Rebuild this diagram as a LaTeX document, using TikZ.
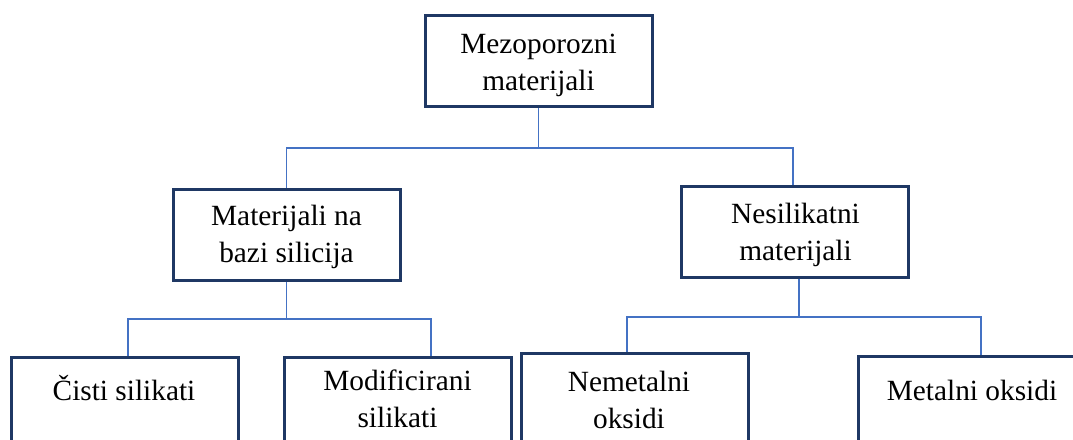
\documentclass[tikz,border=0pt]{standalone}
\usepackage{fontspec}
\setmainfont{Liberation Serif}
\definecolor{navy}{HTML}{1F3864}
\definecolor{connblue}{HTML}{4472C4}
\begin{document}
\begin{tikzpicture}[x=0.75pt,y=-0.75pt,
  box/.style={draw=navy, line width=2.25pt, fill=white, inner sep=0pt,
    minimum width=170.25pt, minimum height=68.25pt},
  lbl/.style={font=\fontsize{22}{27.75}\selectfont, align=center, inner sep=0pt, anchor=base},
  conn/.style={draw=connblue, line width=0.8pt}]
\useasboundingbox (0,0) rectangle (1073,439);
\clip (0,0) rectangle (1073,439);
% boxes
\node[box] (top) at (538.5,61) {};
\node[box] (B1) at (286.5,234.5) {};
\node[box] (B2) at (795,231.5) {};
\node[box] (C1) at (125,402.5) {};
\node[box] (C2) at (397.5,402.5) {};
\node[box] (C3) at (635,398.5) {};
\node[box] (C4) at (972,401.5) {};
% texts (base = baseline of last line)
\node[lbl] (tT) at (538.5,90) {Mezoporozni\\materijali};
\node[lbl] (tB1) at (286.5,262) {Materijali na\\bazi silicija};
\node[lbl] (tB2) at (795.5,260) {Nesilikatni\\materijali};
\node[lbl] (tC1) at (124,400) {Čisti silikati};
\node[lbl] (tC2) at (397.5,427) {Modificirani\\silikati};
\node[lbl] (tC3) at (629,428) {Nemetalni\\oksidi};
\node[lbl] (tC4) at (972,400) {Metalni oksidi};
% connectors
\coordinate (j0) at (538.5,148);
\coordinate (j1) at (286.5,319);
\coordinate (j2) at (799,317);
\draw[conn] (top.south) -- (j0);
\draw[conn] (B1.north) |- (j0) -| (B2.north -| 793,0);
\draw[conn] (B1.south) -- (j1);
\draw[conn] (C1.north -| 128,0) |- (j1) -| (C2.north -| 431,0);
\draw[conn] (B2.south -| 799,0) -- (j2);
\draw[conn] (C3.north -| 627,0) |- (j2) -| (C4.north -| 981,0);
\end{tikzpicture}
\end{document}
